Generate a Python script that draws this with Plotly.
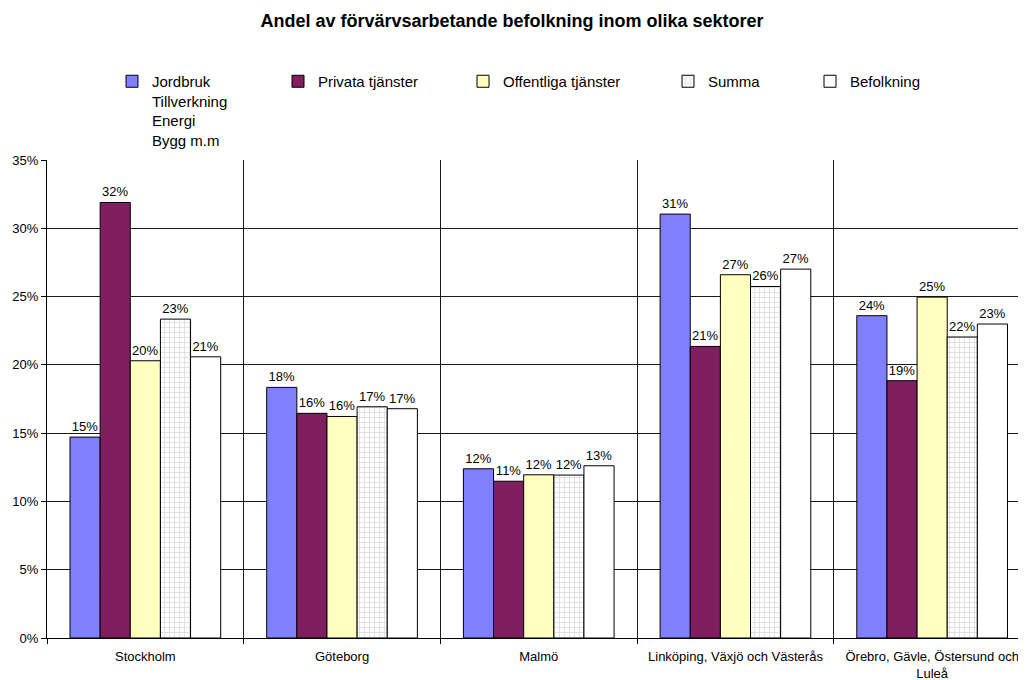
import plotly.graph_objects as go

categories = ["Stockholm", "Göteborg", "Malmö", "Linköping, Växjö och Västerås",
              "Örebro, Gävle, Östersund och<br>Luleå"]

series_names = ["Jordbruk<br>Tillverkning<br>Energi<br>Bygg m.m", "Privata tjänster",
                "Offentliga tjänster", "Summa", "Befolkning"]

jordbruk = [0.1471, 0.1835, 0.1239, 0.3104, 0.2360]
privata = [0.3189, 0.1645, 0.1148, 0.2135, 0.1884]
offentliga = [0.2030, 0.1622, 0.1195, 0.2660, 0.2496]
summa = [0.2335, 0.1693, 0.1193, 0.2574, 0.2204]
befolkning = [0.2059, 0.1679, 0.1261, 0.2701, 0.2299]

y_ticks = [0, 0.05, 0.10, 0.15, 0.20, 0.25, 0.30, 0.35]

title = "Andel av förvärvsarbetande befolkning inom olika sektorer"

FONT = "Liberation Sans, Arial, sans-serif"
BODY = 8  # default page margin around the plot div
W, H = 1026 - BODY, 680 - BODY
ML, MR, MT, MB = 47 - BODY, 0, 160 - BODY, 42

colors = ["#8080FF", "#7F1F5F", "#FFFFC0", "#FFFFFF", "#FFFFFF"]
values = [jordbruk, privata, offentliga, summa, befolkning]
legend_text_px = [152, 318, 503, 708, 850]

fig = go.Figure()
plot_w = W - ML - MR
plot_h = H - MT - MB
leg_top = 65 - BODY
leg_y = (H - MB - leg_top) / plot_h

for i, (name, vals, col) in enumerate(zip(series_names, values, colors)):
    marker = dict(color=col, line=dict(color="black", width=1))
    if i == 3:
        marker["pattern"] = dict(shape="+", fgcolor="#B4B4B4", bgcolor="#FFFFFF",
                                 size=5, solidity=0.3, fillmode="overlay")
    lg = "legend" if i == 0 else f"legend{i+1}"
    fig.add_trace(go.Bar(
        x=categories, y=vals, name=name, marker=marker,
        texttemplate="%{y:.0%}", textposition="outside",
        textfont=dict(family=FONT, size=13, color="black"),
        constraintext="none", cliponaxis=False, legend=lg,
    ))

layout_legends = {}
for i, px in enumerate(legend_text_px):
    key = "legend" if i == 0 else f"legend{i+1}"
    layout_legends[key] = dict(
        x=(px - BODY - 40 - ML) / plot_w, y=leg_y, xanchor="left", yanchor="top",
        orientation="v", font=dict(family=FONT, size=15, color="black"),
        bgcolor="rgba(0,0,0,0)", borderwidth=0, valign="top",
        itemclick=False, itemdoubleclick=False, tracegroupgap=0,
    )

fig.update_layout(
    width=W, height=H,
    margin=dict(l=ML, r=MR, t=MT, b=MB, pad=0),
    paper_bgcolor="white", plot_bgcolor="white",
    font=dict(family=FONT, size=13, color="black"),
    title=dict(text="<b>" + title + "</b>",
               x=(512 - BODY - ML) / plot_w, xref="paper", xanchor="center",
               y=1 - (21 - BODY) / H, yanchor="middle",
               font=dict(family=FONT, size=18, color="black")),
    barmode="group", bargap=0.234, bargroupgap=0,
    showlegend=True,
    **layout_legends,
)

fig.update_xaxes(
    type="category", range=[-0.5, -0.5 + plot_w / 196.7],
    tickson="boundaries", ticks="outside", ticklen=5, tickcolor="black",
    ticklabelstandoff=6,
    showgrid=True, gridcolor="#1a1a1a", gridwidth=1,
    showline=True, linecolor="black", linewidth=1,
    tickfont=dict(family=FONT, size=13, color="black"),
    zeroline=False,
)
fig.update_yaxes(
    range=[0, 0.35], tickvals=y_ticks, tickformat=".0%",
    ticks="outside", ticklen=5, tickcolor="black",
    showgrid=True, gridcolor="#1a1a1a", gridwidth=1,
    showline=True, linecolor="black", linewidth=1,
    tickfont=dict(family=FONT, size=13, color="black"),
    zeroline=False,
)

fig.write_html("out.html")
